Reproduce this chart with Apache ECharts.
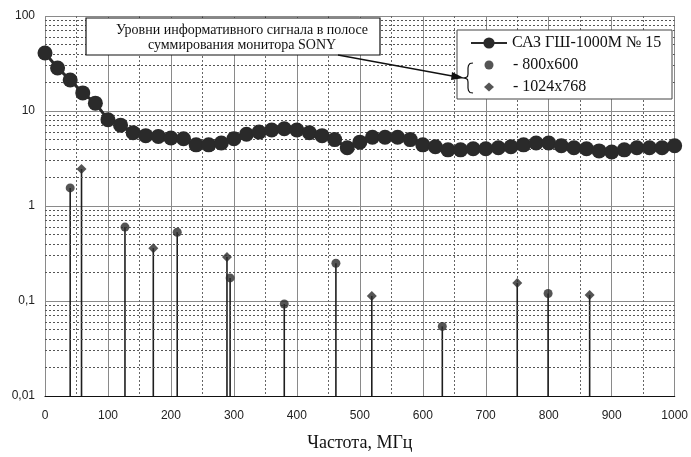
<!DOCTYPE html>
<html>
<head>
<meta charset="utf-8">
<script src="https://cdn.jsdelivr.net/npm/echarts@6/dist/echarts.min.js"></script>
<style>html,body{margin:0;padding:0;background:#fff;}#c{width:691px;height:457px;}</style>
</head>
<body>
<div id="c"></div>
<script>
// ---- data ----
const freq = [0,20,40,60,80,100,120,140,160,180,200,220,240,260,280,300,320,340,360,380,400,420,440,460,480,500,520,540,560,580,600,620,640,660,680,700,720,740,760,780,800,820,840,860,880,900,920,940,960,980,1000];
const level = [40.8,28.4,21.2,15.5,12.1,8.1,7.1,5.9,5.5,5.4,5.2,5.1,4.4,4.4,4.6,5.1,5.7,6.0,6.3,6.5,6.3,5.9,5.5,5.0,4.1,4.7,5.3,5.3,5.3,5.0,4.4,4.2,3.9,3.9,4.0,4.0,4.1,4.2,4.4,4.6,4.6,4.3,4.1,4.0,3.8,3.7,3.9,4.1,4.1,4.1,4.3];
const freq800 = [40,127,210,294,380,462,631,799];
const val800 = [1.55,0.60,0.53,0.175,0.093,0.25,0.054,0.12];
const freq1024 = [58,172,289,519,750,865];
const val1024 = [2.45,0.36,0.29,0.113,0.155,0.116];
const yTickLabels = ['0,01','0,1','1','10','100'];
const minorGrid = [0.02,0.03,0.04,0.05,0.06,0.07,0.08,0.09,0.2,0.3,0.4,0.5,0.6,0.7,0.8,0.9,2,3,4,5,6,7,8,9,20,30,40,50,60,70,80,90];
const seriesNames = ['САЗ ГШ-1000М № 15','- 800x600','- 1024x768'];
const noteLines = ['Уровни информативного сигнала в полосе','суммирования монитора SONY'];
const xTitle = 'Частота, МГц';

const yMin = 0.01, yMax = 100;
const pair = (xs, ys) => xs.map((x, i) => [x, ys[i]]);
const serif = 'Liberation Serif';
const sans = 'Liberation Sans';

const stem = (data) => ({
  type: 'custom', silent: true, z: 3, data: data, encode: {x: 0, y: 1},
  renderItem: (params, api) => {
    const p1 = api.coord([api.value(0), api.value(1)]);
    const p0 = api.coord([api.value(0), yMin]);
    return {type: 'line', shape: {x1: p0[0], y1: p0[1], x2: p1[0], y2: p1[1]},
            style: {stroke: '#1e1e1e', lineWidth: 1.6}};
  }
});

const chart = echarts.init(document.getElementById('c'), null, {renderer: 'canvas'});
chart.setOption({
  animation: false,
  backgroundColor: '#fff',
  grid: {left: 45, right: 13, top: 16, bottom: 61},
  xAxis: {
    type: 'value', min: 0, max: 1000, interval: 100,
    name: xTitle, nameLocation: 'middle', nameGap: 38,
    nameTextStyle: {fontFamily: serif, fontSize: 18, color: '#111'},
    axisLine: {show: true, onZero: false, lineStyle: {color: '#111', width: 1.2}},
    axisTick: {show: false},
    axisLabel: {fontFamily: sans, fontSize: 12, color: '#222', margin: 14, formatter: v => String(v)},
    splitLine: {show: true, lineStyle: {color: '#8a8a8a', width: 1}},
    minorTick: {show: false, splitNumber: 2},
    minorSplitLine: {show: true, lineStyle: {color: '#666', width: 1, type: [2, 2]}}
  },
  yAxis: {
    type: 'log', logBase: 10, min: yMin, max: yMax,
    axisLine: {show: false},
    axisTick: {show: false},
    axisLabel: {fontFamily: sans, fontSize: 12, color: '#222', margin: 10,
      formatter: v => yTickLabels[Math.round(Math.log10(v)) + 2]},
    splitLine: {show: true, lineStyle: {color: '#8a8a8a', width: 1}}
  },
  legend: [
    {data: [seriesNames[0]], orient: 'vertical', left: 470, top: 35, z: 100, padding: 0,
     itemWidth: 36, itemHeight: 14, itemGap: 6,
     textStyle: {fontFamily: serif, fontSize: 16, color: '#111', lineHeight: 16}},
    {data: [seriesNames[1], seriesNames[2]], orient: 'vertical', left: 484, top: 57, z: 100, padding: 0,
     itemWidth: 10, itemHeight: 9, itemGap: 6,
     textStyle: {fontFamily: serif, fontSize: 16, color: '#111', lineHeight: 16, padding: [0, 0, 0, 14]}}
  ],
  graphic: [
    {type: 'rect', z: 90, shape: {x: 86, y: 18, width: 294, height: 37},
     style: {fill: '#fff', stroke: '#111', lineWidth: 1.2}},
    {type: 'text', z: 91, x: 242, y: 30, style: {text: noteLines[0], fontFamily: serif, fontSize: 14,
     fill: '#111', textAlign: 'center', textVerticalAlign: 'middle'}},
    {type: 'text', z: 91, x: 242, y: 45, style: {text: noteLines[1], fontFamily: serif, fontSize: 14,
     fill: '#111', textAlign: 'center', textVerticalAlign: 'middle'}},
    {type: 'rect', z: 90, shape: {x: 457, y: 30, width: 215, height: 69},
     style: {fill: '#fff', stroke: '#444', lineWidth: 1}},
    {type: 'line', z: 92, shape: {x1: 338, y1: 55, x2: 455, y2: 76.5},
     style: {stroke: '#111', lineWidth: 1.3}},
    {type: 'polygon', z: 92, shape: {points: [[464, 78], [452, 72], [451, 80]]},
     style: {fill: '#111'}},
    {type: 'polyline', z: 92, shape: {points: [[473,63],[470,63.5],[468.5,65.5],[468,68],[468,74],[467.5,76.5],[465.5,77.7],[464,78],[465.5,78.3],[467.5,79.5],[468,82],[468,88],[468.5,90.5],[470,92.5],[473,93]]},
     style: {stroke: '#111', fill: null, lineWidth: 1.2}}
  ],
  series: [
    {type: 'line', silent: true, z: 1, data: [], symbol: 'none',
     markLine: {silent: true, symbol: 'none', label: {show: false},
       lineStyle: {color: '#555', width: 1, type: [2, 2]},
       data: minorGrid.map(v => ({yAxis: v}))}},
    stem(pair(freq800, val800)),
    stem(pair(freq1024, val1024)),
    {name: seriesNames[0], type: 'line', z: 5, data: pair(freq, level),
     symbol: 'circle', symbolSize: 15, showSymbol: true,
     lineStyle: {color: '#2a2a2a', width: 3}, itemStyle: {color: '#2a2a2a'}},
    {name: seriesNames[1], type: 'scatter', z: 6, data: pair(freq800, val800),
     symbol: 'circle', symbolSize: 9, itemStyle: {color: '#2a2a2a'}},
    {name: seriesNames[2], type: 'scatter', z: 6, data: pair(freq1024, val1024),
     symbol: 'diamond', symbolSize: 10, itemStyle: {color: '#2a2a2a'}}
  ]
});
</script>
</body>
</html>
